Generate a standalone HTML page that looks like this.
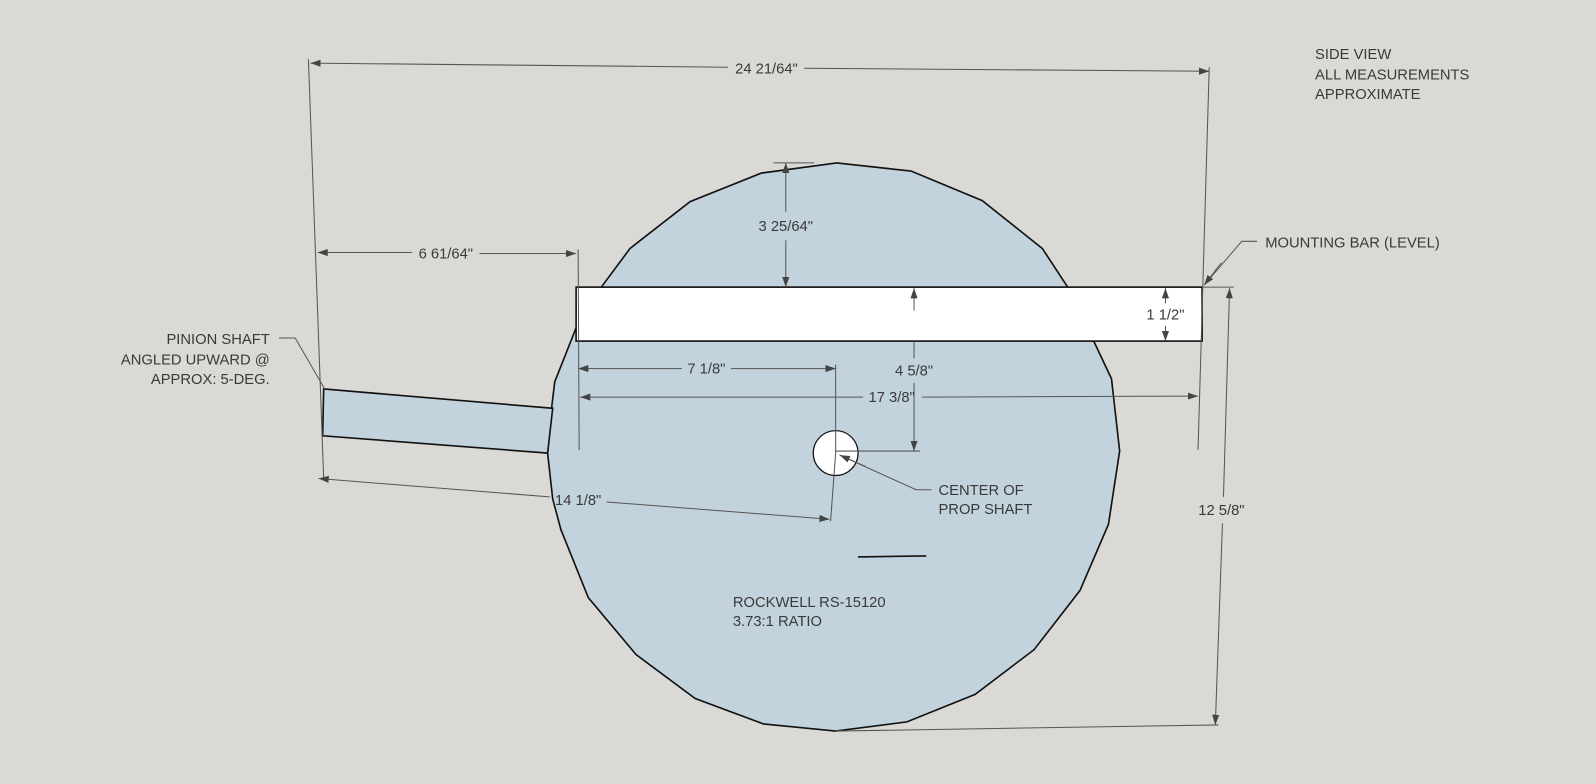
<!DOCTYPE html>
<html><head><style>
html,body{margin:0;padding:0;background:#dad9d5;}
svg{display:block}
text{font-family:"Liberation Sans",sans-serif;font-size:14.5px;fill:#3a3a3a}
</style></head><body>
<svg width="1596" height="784" viewBox="0 0 1568 770" preserveAspectRatio="none">
<defs>
<marker id="a" viewBox="0 0 10 10" refX="10" refY="5" markerWidth="10" markerHeight="10" markerUnits="userSpaceOnUse" orient="auto-start-reverse"><path d="M0,1.5L10,5L0,8.5z" fill="#444"/></marker>
</defs>
<rect width="1568" height="770" fill="#dad9d5"/>
<polygon points="822,160 895,168 965,197 1024,244 1049,282 1075,336 1092,372 1100,443 1089,515 1061,580 1016,638 958,682 891,709 821,718 750,711 683,686 625,643 578,587 551,520 543,490 538,445 542,400 545,375 566,322 590,283 619,244 678,198 748,170" fill="#c3d3dd" stroke="#111" stroke-width="1.6"/>
<polygon points="318,382 543,401 538,445 317,428" fill="#c3d3dd" stroke="#111" stroke-width="1.6"/>
<rect x="566" y="282" width="615" height="53" fill="#fff" stroke="#111" stroke-width="1.6"/>
<circle cx="821" cy="445" r="22" fill="#fff" stroke="#111" stroke-width="1.2"/>
<line x1="843" y1="547" x2="910" y2="546" stroke="#111" stroke-width="1.6"/>
<g stroke="#555" stroke-width="1" fill="none">
<line x1="303" y1="58" x2="318" y2="470"/>
<line x1="1188" y1="66" x2="1177" y2="442"/>
<line x1="305" y1="62" x2="715" y2="66" marker-start="url(#a)"/>
<line x1="790" y1="67" x2="1188" y2="70" marker-end="url(#a)"/>
<line x1="568" y1="245" x2="569" y2="442"/>
<line x1="312" y1="248" x2="405" y2="248" marker-start="url(#a)"/>
<line x1="471" y1="249" x2="566" y2="249" marker-end="url(#a)"/>
<line x1="760" y1="160" x2="800" y2="160"/>
<line x1="772" y1="160" x2="772" y2="208" marker-start="url(#a)"/>
<line x1="772" y1="236" x2="772" y2="282" marker-end="url(#a)"/>
<line x1="898" y1="305" x2="898" y2="283" marker-end="url(#a)"/>
<line x1="898" y1="336" x2="898" y2="352"/>
<line x1="898" y1="376" x2="898" y2="443" marker-end="url(#a)"/>
<line x1="821" y1="443" x2="904" y2="443"/>
<line x1="1145" y1="298" x2="1145" y2="283" marker-end="url(#a)"/>
<line x1="1145" y1="320" x2="1145" y2="335" marker-end="url(#a)"/>
<line x1="821" y1="358" x2="821" y2="445"/>
<line x1="568" y1="362" x2="670" y2="362" marker-start="url(#a)"/>
<line x1="718" y1="362" x2="821" y2="362" marker-end="url(#a)"/>
<line x1="570" y1="390" x2="848" y2="390" marker-start="url(#a)"/>
<line x1="906" y1="390" x2="1177" y2="389" marker-end="url(#a)"/>
<line x1="821" y1="445" x2="816" y2="512"/>
<line x1="313" y1="470" x2="540" y2="488" marker-start="url(#a)"/>
<line x1="596" y1="493" x2="815" y2="510" marker-end="url(#a)"/>
<line x1="1181" y1="282" x2="1212" y2="282"/>
<line x1="821" y1="718" x2="1197" y2="712"/>
<line x1="1208" y1="283" x2="1202" y2="488" marker-start="url(#a)"/>
<line x1="1201" y1="514" x2="1194" y2="712" marker-end="url(#a)"/>
<polyline points="1235,237 1220,237 1183,280"/>
<line x1="1200" y1="258" x2="1183" y2="280" marker-end="url(#a)"/>
<polyline points="274,332 290,332 319,382"/>
<polyline points="915,481 900,481 825,447"/>
<line x1="850" y1="458" x2="825" y2="447" marker-end="url(#a)"/>
</g>
<g text-anchor="middle">
<text x="753" y="72">24 21/64"</text>
<text x="438" y="254">6 61/64"</text>
<text x="772" y="227">3 25/64"</text>
<text x="898" y="369">4 5/8"</text>
<text x="1145" y="314">1 1/2"</text>
<text x="694" y="367">7 1/8"</text>
<text x="876" y="395">17 3/8"</text>
<text x="568" y="496">14 1/8"</text>
<text x="1200" y="506">12 5/8"</text>
</g>
<text x="1292" y="58">SIDE VIEW</text>
<text x="1292" y="78">ALL MEASUREMENTS</text>
<text x="1292" y="97">APPROXIMATE</text>
<text x="1243" y="243">MOUNTING BAR (LEVEL)</text>
<g text-anchor="end">
<text x="265" y="338">PINION SHAFT</text>
<text x="265" y="358">ANGLED UPWARD @</text>
<text x="265" y="377">APPROX: 5-DEG.</text>
</g>
<text x="922" y="486">CENTER OF</text>
<text x="922" y="505">PROP SHAFT</text>
<text x="720" y="596">ROCKWELL RS-15120</text>
<text x="720" y="615">3.73:1 RATIO</text>
</svg>
</body></html>
